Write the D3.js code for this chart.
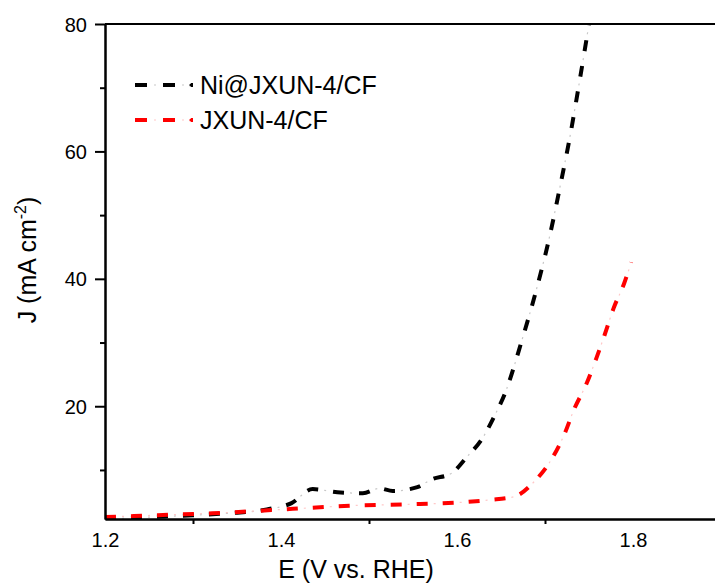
<!DOCTYPE html>
<html>
<head>
<meta charset="utf-8">
<script src="https://cdn.jsdelivr.net/npm/d3@7"></script>
<style>
  body { margin: 0; background: #fff; }
  svg { display: block; font-family: "Liberation Sans", Arial, sans-serif; }
</style>
</head>
<body>
<div id="chart"></div>
<script>
// Ni@JXUN-4/CF polarization curve (E vs RHE, J in mA cm-2)
const niE = [1.200, 1.250, 1.300, 1.340, 1.384, 1.412, 1.436, 1.464, 1.493, 1.512, 1.527, 1.555, 1.571, 1.594,
             1.611, 1.629, 1.643, 1.655, 1.673, 1.690, 1.705, 1.717, 1.729, 1.739, 1.750];
const niJ = [2.3, 2.6, 2.9, 3.2, 3.8, 4.8, 7.0, 6.5, 6.35, 7.1, 6.7, 7.3, 8.5, 9.5,
             12.0, 15.0, 18.6, 22.2, 30.0, 38.2, 46.5, 54.4, 62.8, 70.8, 80.0];

// JXUN-4/CF
const jxE = [1.200, 1.260, 1.322, 1.389, 1.440, 1.480, 1.543, 1.603, 1.637, 1.665, 1.688, 1.708,
             1.722, 1.733, 1.747, 1.758, 1.768, 1.778, 1.790, 1.798];
const jxJ = [2.6, 2.9, 3.2, 3.7, 4.1, 4.4, 4.6, 4.9, 5.3, 5.8, 8.2, 11.8,
             15.6, 19.5, 23.5, 27.4, 31.3, 35.4, 39.3, 42.6];

const seriesNames = ["Ni@JXUN-4/CF", "JXUN-4/CF"];
const seriesColors = ["#000000", "#ff0000"];
const dotColors = ["#c8c8c8", "#ffc8c8"];

const xLabelTicks = [1.2, 1.4, 1.6, 1.8];
const xMarkTicks = [1.3, 1.5, 1.7];
const yMajorTicks = [20, 40, 60, 80];
const yMinorTicks = [10, 30, 50, 70];

const W = 715, H = 585;
const plotL = 105, plotR = 721, plotT = 24, plotB = 519;

const svg = d3.select("#chart").append("svg")
    .attr("width", W)
    .attr("height", H);

const x = d3.scaleLinear().domain([1.2, 1.9]).range([plotL, plotR]);
const y = d3.scaleLinear().domain([2.3, 80]).range([plotB, plotT]);

svg.append("defs").append("clipPath").attr("id", "plotclip")
    .append("rect")
    .attr("x", plotL).attr("y", plotT)
    .attr("width", plotR - plotL).attr("height", plotB - plotT);

// curves
const line = d3.line()
    .x(d => x(d[0]))
    .y(d => y(d[1]))
    .curve(d3.curveMonotoneX);

const allSeries = [d3.zip(niE, niJ), d3.zip(jxE, jxJ)];

const plot = svg.append("g").attr("clip-path", "url(#plotclip)");

// black first, red drawn over it (red sits on top near 1.2 V)
[0, 1].forEach(i => {
    plot.append("path")
        .datum(allSeries[i])
        .attr("d", line)
        .attr("fill", "none")
        .attr("stroke", seriesColors[i])
        .attr("stroke-width", 4)
        .attr("stroke-dasharray", "11 15");
    plot.append("path")
        .datum(allSeries[i])
        .attr("d", line)
        .attr("fill", "none")
        .attr("stroke", dotColors[i])
        .attr("stroke-width", 1.2)
        .attr("stroke-dasharray", "2 24")
        .attr("stroke-dashoffset", 9);
});

// axes
const yAxis = svg.append("g")
    .attr("transform", "translate(" + plotL + ",0)")
    .call(d3.axisLeft(y).tickValues(yMajorTicks).tickSize(10).tickSizeOuter(0).tickPadding(8));
const yMinor = svg.append("g")
    .attr("transform", "translate(" + plotL + ",0)")
    .call(d3.axisLeft(y).tickValues(yMinorTicks).tickSize(5).tickSizeOuter(0).tickFormat(""));

const xAxis = svg.append("g")
    .attr("transform", "translate(0," + plotB + ")")
    .call(d3.axisBottom(x).tickValues(xLabelTicks).tickSize(0).tickSizeOuter(0).tickPadding(14)
        .tickFormat(d3.format(".1f")));
const xMarks = svg.append("g")
    .attr("transform", "translate(0," + plotB + ")")
    .call(d3.axisBottom(x).tickValues(xMarkTicks).tickSize(5).tickSizeOuter(0).tickFormat(""));

[yAxis, yMinor, xAxis, xMarks].forEach(g => {
    g.selectAll("path.domain").attr("stroke", "#000").attr("stroke-width", 2);
    g.selectAll(".tick line").attr("stroke", "#000").attr("stroke-width", 2);
    g.selectAll(".tick text").attr("fill", "#000").style("font-size", "20px")
        .style("font-family", "'Liberation Sans', Arial, sans-serif");
});
yAxis.selectAll(".tick text").attr("dy", "0.35em");

// top and right spines
svg.append("line")
    .attr("x1", plotL).attr("x2", plotR)
    .attr("y1", plotT).attr("y2", plotT)
    .attr("stroke", "#000").attr("stroke-width", 2);
svg.append("line")
    .attr("x1", plotR).attr("x2", plotR)
    .attr("y1", plotT).attr("y2", plotB)
    .attr("stroke", "#000").attr("stroke-width", 2);

// axis titles
svg.append("text")
    .attr("x", 356)
    .attr("y", 578)
    .attr("text-anchor", "middle")
    .style("font-size", "25px")
    .text("E (V vs. RHE)");

const yTitle = svg.append("text")
    .attr("transform", "translate(36,260) rotate(-90)")
    .attr("text-anchor", "middle")
    .style("font-size", "25px");
yTitle.append("tspan").text("J (mA cm");
yTitle.append("tspan").attr("dy", "-10").style("font-size", "16px").text("-2");
yTitle.append("tspan").attr("dy", "10").text(")");

// legend
const legendY = [85, 120];
seriesNames.forEach((name, i) => {
    const g = svg.append("g");
    g.append("line")
        .attr("x1", 135).attr("x2", 193)
        .attr("y1", legendY[i]).attr("y2", legendY[i])
        .attr("stroke", seriesColors[i])
        .attr("stroke-width", 4)
        .attr("stroke-dasharray", "12 16");
    g.append("line")
        .attr("x1", 135).attr("x2", 193)
        .attr("y1", legendY[i]).attr("y2", legendY[i])
        .attr("stroke", dotColors[i])
        .attr("stroke-width", 1.2)
        .attr("stroke-dasharray", "2 26")
        .attr("stroke-dashoffset", 9);
    g.append("circle")
        .attr("cx", 191).attr("cy", legendY[i]).attr("r", 1.6)
        .attr("fill", seriesColors[i]);
    g.append("text")
        .attr("x", 200)
        .attr("y", legendY[i] + 9)
        .style("font-size", "25px")
        .text(name);
});
</script>
</body>
</html>
